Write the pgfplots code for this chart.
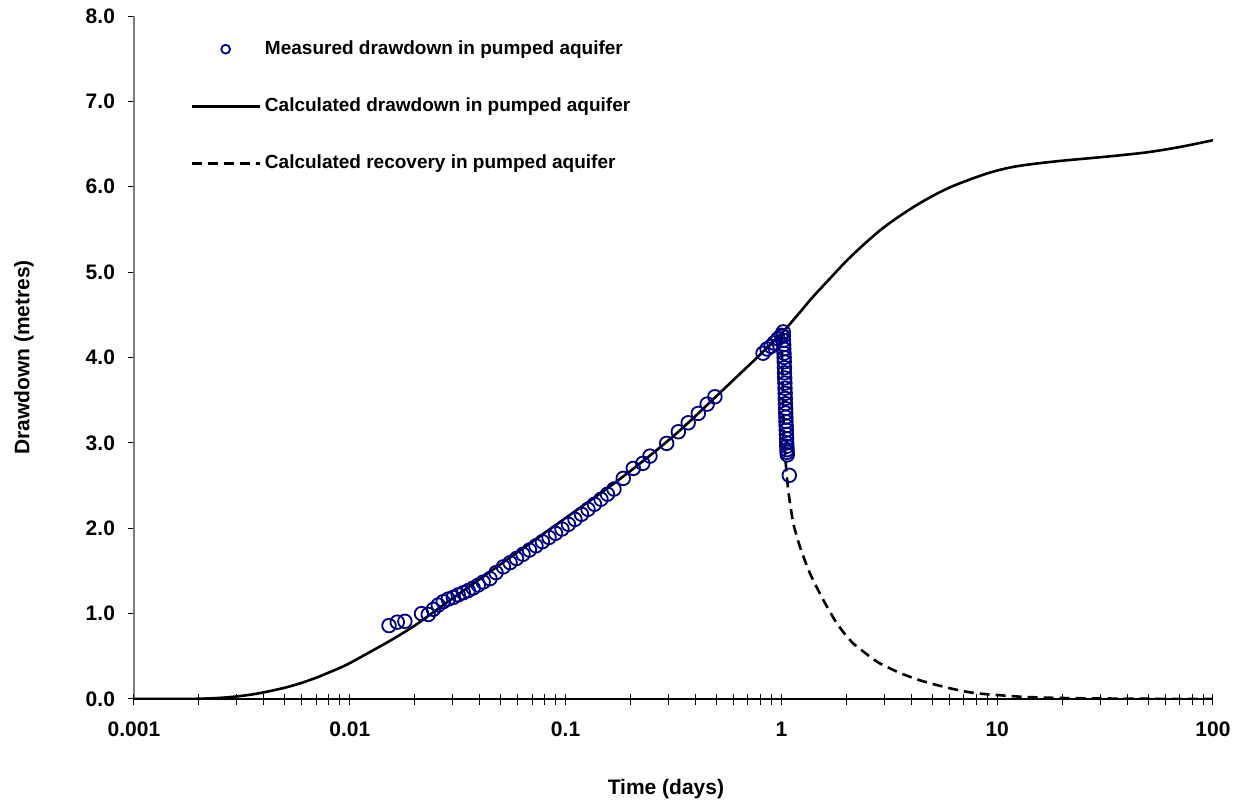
\documentclass[border=0pt]{standalone}
\usepackage{fontspec}
\setmainfont{Liberation Sans}
\usepackage{pgfplots}
\pgfplotsset{compat=1.18}
\definecolor{navy}{RGB}{0,0,128}

\begin{document}
\begin{tikzpicture}[x=1pt,y=1pt]
\path[use as bounding box] (0,0) rectangle (619,401.5);
\begin{axis}[
  at={(67pt,52pt)}, anchor=south west,
  scale only axis, width=539.5pt, height=341.5pt,
  xmode=log, xmin=0.001, xmax=100, ymin=0, ymax=8,
  axis x line*=bottom, axis y line*=left,
  x axis line style={-, line width=0.6pt},
  y axis line style={-, gray, line width=0.6pt},
  tick align=outside, major tick length=3pt,
  tick style={black, line width=0.5pt},
  xtick={0.001,0.01,0.1,1,10,100},
  xticklabels={0.001,0.01,0.1,1,10,100},
  minor xtick={},
  extra x ticks={0.001,0.002,0.003,0.004,0.005,0.006,0.007,0.008,0.009,
    0.01,0.02,0.03,0.04,0.05,0.06,0.07,0.08,0.09,
    0.1,0.2,0.3,0.4,0.5,0.6,0.7,0.8,0.9,
    1,2,3,4,5,6,7,8,9,10,20,30,40,50,60,70,80,90,100},
  extra x tick labels={},
  extra x tick style={tick align=inside, major tick length=2.6pt},
  ytick={0,1,2,3,4,5,6,7,8},
  yticklabel style={/pgf/number format/fixed, /pgf/number format/fixed zerofill,
    /pgf/number format/precision=1, xshift=-3pt},
  /pgf/number format/assume math mode=true,
  ticklabel style={font=\bfseries\fontsize{10.5}{12}\selectfont},
  xticklabel style={yshift=-5pt},
  xlabel={Time (days)}, ylabel={Drawdown (metres)},
  every axis x label/.style={at={(axis description cs:0.493,-0.132)}, anchor=center,
    font=\bfseries\fontsize{10.5}{12}\selectfont},
  every axis y label/.style={at={(axis description cs:-0.102,0.5)}, rotate=90, anchor=center,
    font=\bfseries\fontsize{10.5}{12}\selectfont},
  legend cell align=left,
  legend image code/.code={\draw[mark repeat=2,mark phase=2,#1] plot coordinates {(0pt,0pt) (17pt,0pt) (34pt,0pt)};},
  legend style={draw=none, fill=none, inner sep=0pt,
    at={(axis description cs:0.0519,0.971)}, anchor=north west,
    font=\bfseries\fontsize{9.5}{11}\selectfont, row sep=15.5pt,
    nodes={inner sep=2pt, text height=7pt, text depth=2pt}},
]
\addlegendimage{only marks, mark=o, mark size=2.2pt, navy, line width=0.9pt}
\addlegendentry{Measured drawdown in pumped aquifer}
\addplot[black, line width=1.3pt, smooth] coordinates {
 (0.001,0) (0.0015,0) (0.002,0.003) (0.0025,0.013) (0.003,0.03) (0.0035,0.052)
 (0.004,0.078) (0.005,0.132) (0.006,0.19) (0.007,0.25) (0.008,0.31) (0.009,0.365)
 (0.01,0.42) (0.0126,0.56) (0.0158,0.70) (0.02,0.86) (0.0251,1.04) (0.0316,1.22)
 (0.0398,1.40) (0.0501,1.58) (0.0631,1.76) (0.0794,1.94) (0.1,2.12) (0.1259,2.30)
 (0.1585,2.48) (0.1995,2.67) (0.2512,2.87) (0.3162,3.08) (0.3981,3.31) (0.5012,3.55)
 (0.631,3.79) (0.794,4.03) (1,4.28) (1.2,4.51) (1.4,4.71) (1.7,4.94) (2.0,5.13)
 (2.4,5.32) (2.9,5.50) (3.5,5.65) (4.2,5.78) (5.0,5.89) (6.0,5.99) (7.2,6.07)
 (8.6,6.14) (10,6.19) (12,6.235) (15,6.27) (20,6.305) (27,6.335) (36,6.365)
 (50,6.405) (70,6.465) (100,6.545)};
\addlegendentry{Calculated drawdown in pumped aquifer}
\addplot[black, line width=1.3pt, dash pattern=on 5pt off 3pt, smooth] coordinates {
 (1.0,4.28) (1.002,4.25) (1.005,4.13) (1.01,3.86) (1.02,3.38) (1.03,3.08)
 (1.04,2.88) (1.05,2.73) (1.06,2.61) (1.075,2.45) (1.1,2.27) (1.135,2.06)
 (1.18,1.90) (1.22,1.78) (1.29,1.61) (1.357,1.47) (1.45,1.32) (1.564,1.16)
 (1.68,1.02) (1.804,0.89) (1.97,0.76) (2.154,0.65) (2.36,0.57) (2.574,0.495)
 (2.8,0.43) (3.075,0.378) (3.5,0.31) (3.944,0.26) (4.5,0.21) (5.244,0.164)
 (6.3,0.115) (7.48,0.078) (8.6,0.06) (9.95,0.047) (13.2,0.025) (18,0.014)
 (25,0.008) (40,0.004) (60,0.002) (100,0.001)};
\addlegendentry{Calculated recovery in pumped aquifer}
\addplot[only marks, mark=o, mark size=3.4pt, navy, line width=0.9pt, forget plot] coordinates {
 (0.0152,0.86) (0.0166,0.90) (0.0180,0.91) (0.0215,1.00) (0.0231,0.99) (0.0244,1.05)
 (0.0257,1.10) (0.0271,1.14) (0.0286,1.17) (0.0302,1.19) (0.0318,1.22) (0.0336,1.245)
 (0.0354,1.27) (0.0373,1.30) (0.0394,1.335) (0.0415,1.37) (0.0446,1.41) (0.0476,1.48)
 (0.0515,1.548) (0.0553,1.597) (0.0592,1.646) (0.0635,1.695) (0.0680,1.745) (0.0729,1.794)
 (0.0781,1.843) (0.0838,1.892) (0.0898,1.941) (0.0962,1.991) (0.1031,2.046) (0.1105,2.104)
 (0.1185,2.164) (0.1270,2.222) (0.1361,2.281) (0.1459,2.340) (0.1563,2.399) (0.1676,2.459)
 (0.185,2.584) (0.206,2.701) (0.228,2.760) (0.246,2.845) (0.294,2.994) (0.333,3.130)
 (0.370,3.235) (0.412,3.345) (0.453,3.454) (0.492,3.540)
 (0.822,4.05) (0.858,4.10) (0.895,4.13) (0.924,4.17) (0.964,4.22) (1.0,4.26)
 (1.020,4.30) (1.022,4.25) (1.023,4.20) (1.025,4.15) (1.026,4.10) (1.028,4.05)
 (1.030,4.00) (1.031,3.95) (1.033,3.88) (1.034,3.82) (1.036,3.76) (1.038,3.70)
 (1.039,3.64) (1.041,3.58) (1.042,3.52) (1.044,3.46) (1.046,3.40) (1.047,3.35)
 (1.049,3.30) (1.050,3.25) (1.052,3.20) (1.054,3.15) (1.055,3.10) (1.057,3.05)
 (1.058,3.00) (1.060,2.96) (1.062,2.92) (1.063,2.89) (1.065,2.86) (1.088,2.62)};
\end{axis}
\end{tikzpicture}
\end{document}
